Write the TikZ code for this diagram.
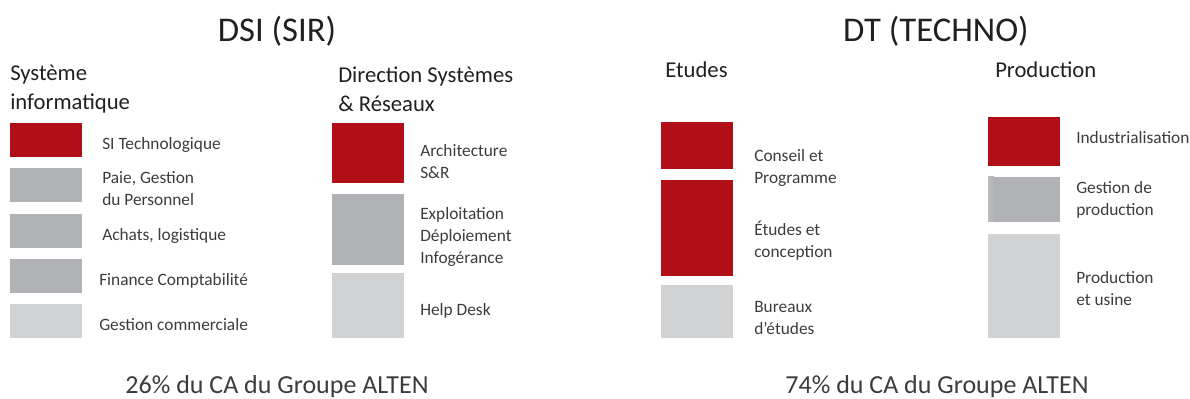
\documentclass[tikz,border=0pt]{standalone}
\usepackage{fontspec}
\setmainfont{Carlito}

\definecolor{altenred}{RGB}{177,15,23}
\definecolor{midgrey}{RGB}{177,178,182}
\definecolor{lightgrey}{RGB}{209,210,212}
\definecolor{txtgrey}{RGB}{60,60,62}
\definecolor{titlegrey}{RGB}{35,31,32}

\tikzset{
  bigtitle/.style={font=\fontsize{26}{30}\selectfont, text=titlegrey, anchor=base, inner sep=0pt},
  heading/.style={font=\fontsize{17}{21.75}\selectfont, text=titlegrey, align=left, anchor=west, inner sep=0pt},
  itemtext/.style={font=\fontsize{13}{16.5}\selectfont, text=txtgrey, align=left, anchor=west, inner sep=0pt},
  share/.style={font=\fontsize{19.5}{22}\selectfont, text=txtgrey, anchor=base, inner sep=0pt}
}

\begin{document}
\begin{tikzpicture}[x=0.75pt,y=-0.75pt]
  \useasboundingbox (0,0) rectangle (1190,399);

  % Titles
  \node[bigtitle] (dsi) at (277,42) {DSI (SIR)};
  \node[bigtitle] (dt) at (936,42) {DT (TECHNO)};

  %% Headings
  \node[heading] (sysinfo) at (10,89) {Système\\informatique};
  \node[heading] (dirsr) at (338,89) {Direction Systèmes\\\& Réseaux};
  \node[heading, anchor=base west] (etudes) at (665,78) {Etudes};
  \node[heading, anchor=base west] (production) at (995,78) {Production};

  %% Systeme informatique
  \fill[altenred] (10,123) rectangle (82,157);
  \fill[midgrey] (10,168) rectangle (82,202);
  \fill[midgrey] (10,214) rectangle (82,248);
  \fill[midgrey] (10,259) rectangle (82,293);
  \fill[lightgrey] (10,304) rectangle (82,338);
  \node[itemtext] (sitech) at (102,145) {SI Technologique};
  \node[itemtext] (paie) at (102,189) {Paie, Gestion\\du Personnel};
  \node[itemtext] (achats) at (102,236) {Achats, logistique};
  \node[itemtext] (finance) at (99,281) {Finance Comptabilité};
  \node[itemtext] (gestcom) at (99,325) {Gestion commerciale};

  %% Direction Systemes & Reseaux
  \fill[altenred] (332,123) rectangle (404,183);
  \fill[midgrey] (332,194) rectangle (404,265);
  \fill[lightgrey] (332,273) rectangle (404,338);
  \node[itemtext] (archi) at (420,162) {Architecture\\S\&R};
  \node[itemtext] (exploit) at (420,237) {Exploitation\\Déploiement\\Infogérance};
  \node[itemtext] (helpdesk) at (420,311) {Help Desk};

  %% Etudes
  \fill[altenred] (661,122) rectangle (733,169);
  \fill[altenred] (661,180) rectangle (733,276);
  \fill[lightgrey] (661,285) rectangle (733,338);
  \node[itemtext] (conseil) at (754,168) {Conseil et\\Programme};
  \node[itemtext] (conception) at (754,241) {Études et\\conception};
  \node[itemtext] (bureaux) at (754,318) {Bureaux\\d'études};

  %% Production
  \fill[altenred] (988,117) rectangle (1060,166);
  \fill[midgrey] (988,177) rectangle (1060,222);
  \shade[left color=lightgrey!40!midgrey, right color=midgrey] (988,177) rectangle (994,222);
  \fill[lightgrey] (988,234) rectangle (1060,338);
  \node[itemtext] (indus) at (1076,138) {Industrialisation};
  \node[itemtext] (gestprod) at (1076,200) {Gestion de\\production};
  \node[itemtext] (usine) at (1076,289) {Production\\et usine};

  %% Shares
  \node[share] (share26) at (277,393) {26\% du CA du Groupe ALTEN};
  \node[share] (share74) at (937,393) {74\% du CA du Groupe ALTEN};
\end{tikzpicture}
\end{document}
